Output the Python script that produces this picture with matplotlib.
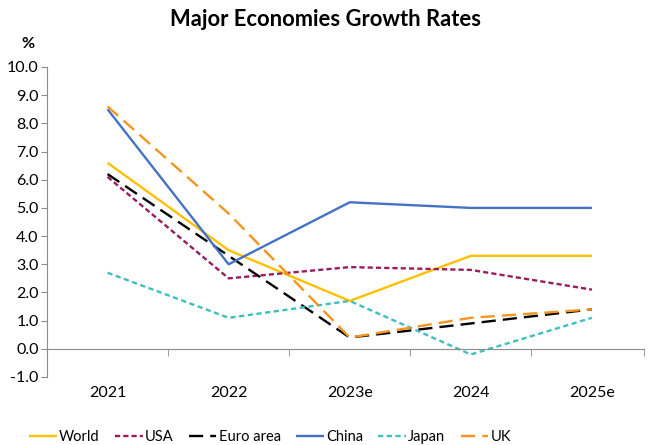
import matplotlib
matplotlib.use("Agg")
import matplotlib.pyplot as plt
from matplotlib.ticker import FixedLocator, NullFormatter

YEARS = ["2021", "2022", "2023e", "2024", "2025e"]
WORLD = [6.6, 3.5, 1.7, 3.3, 3.3]
USA = [6.1, 2.5, 2.9, 2.8, 2.1]
EURO = [6.2, 3.3, 0.4, 0.9, 1.4]
CHINA = [8.5, 3.0, 5.2, 5.0, 5.0]
JAPAN = [2.7, 1.1, 1.7, -0.2, 1.1]
UK = [8.6, 4.8, 0.4, 1.1, 1.4]

plt.rcParams["font.family"] = ["Lato", "DejaVu Sans"]
AX = "#8c8c8c"

fig = plt.figure(figsize=(6.51, 4.45), dpi=100)
ax = fig.add_axes([47 / 651, 68 / 445, 597 / 651, 310 / 445])

x = range(len(YEARS))
series = [
    ("World", WORLD, "#FFC000", (0, ())),
    ("USA", USA, "#9B1B5F", (0, (2.2, 1.3))),
    ("Euro area", EURO, "#000000", (0, (6, 3))),
    ("China", CHINA, "#4472C4", (0, ())),
    ("Japan", JAPAN, "#3DBFBF", (0, (2.2, 1.5))),
    ("UK", UK, "#F7941D", (0, (6, 3))),
]
for name, vals, col, ls in series:
    ax.plot(x, vals, color=col, lw=1.7, linestyle=ls, label=name)

ax.set_ylim(-1, 10)
ax.set_xlim(-0.5, 4.43)
ax.set_yticks([i for i in range(-1, 11)])
ax.set_yticklabels(["%.1f" % i for i in range(-1, 11)], fontsize=11.5)
ax.tick_params(axis="y", direction="out", length=4, color=AX, pad=2)

ax.spines[["top", "right"]].set_visible(False)
ax.spines["left"].set_color(AX)
ax.spines["bottom"].set_color(AX)
ax.spines["bottom"].set_position(("data", 0))

ax.set_xticks(list(x))
ax.set_xticklabels(YEARS, fontsize=11.5)
ax.tick_params(axis="x", which="major", length=0, pad=27)
ax.xaxis.set_minor_locator(FixedLocator([0.5, 1.5, 2.5, 3.5, 4.43]))
ax.xaxis.set_minor_formatter(NullFormatter())
ax.tick_params(axis="x", which="minor", direction="out", length=5, color=AX)

fig.text(28 / 651, 1 - 44 / 445, "%", fontsize=11.5, fontweight="bold",
         ha="center", va="center")
fig.text(326 / 651, 1 - 20 / 445, "Major Economies Growth Rates", fontsize=15.8,
         fontweight="bold", ha="center", va="center")

fig.legend(loc="center", bbox_to_anchor=(270 / 651, 1 - 437 / 445), ncol=6,
           frameon=False, fontsize=10.5, handlelength=1.9, handletextpad=0.15,
           columnspacing=1.05, borderaxespad=0)

fig.savefig("out.png", dpi=100)
